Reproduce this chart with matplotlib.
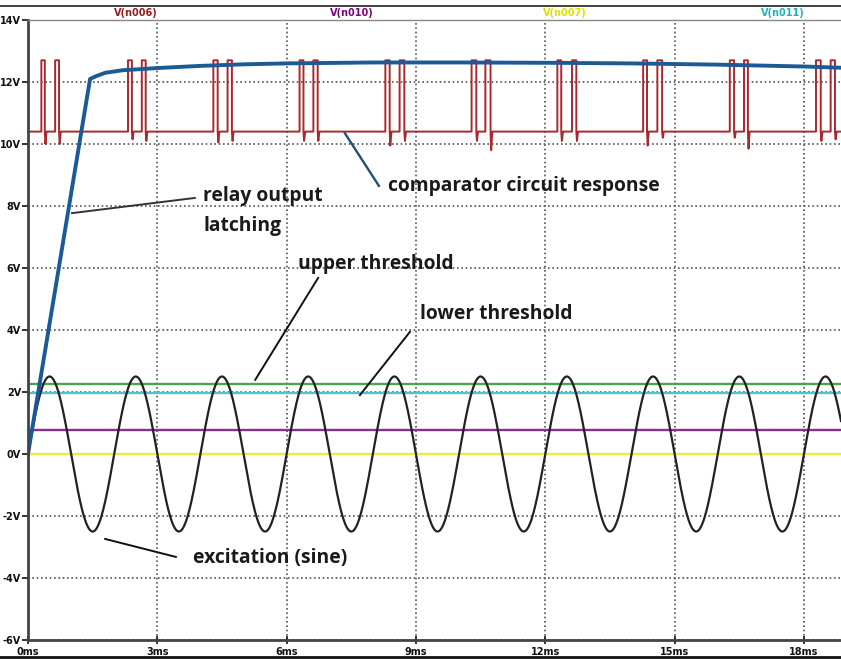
import numpy as np
import matplotlib.pyplot as plt
from matplotlib.lines import Line2D

# ---- data ----
x_ticks = [0, 3, 6, 9, 12, 15, 18]
x_labels = ["0ms", "3ms", "6ms", "9ms", "12ms", "15ms", "18ms"]
y_ticks = [-6, -4, -2, 0, 2, 4, 6, 8, 10, 12, 14]
y_labels = ["-6V", "-4V", "-2V", "0V", "2V", "4V", "6V", "8V", "10V", "12V", "14V"]

# excitation: 2.5 V sine, 2 ms period
sine_amp = 2.5
sine_period = 2.0

# relay output (blue)
relay_t = [0, 1.44, 1.6, 1.8, 2.2, 3.0, 4.0, 5.0, 6.0, 8.0, 10.0, 12.0, 14.0, 16.0, 17.0, 18.0, 18.86]
relay_v = [0, 12.1, 12.2, 12.3, 12.38, 12.45, 12.52, 12.57, 12.6, 12.63, 12.63, 12.62, 12.6, 12.56, 12.53, 12.5, 12.46]

# comparator response (dark red): base level, pulse level, pulse edges, dips after falls
comp_low = 10.4
comp_high = 12.7
pulse_rise = [0.31, 0.63, 2.32, 2.64, 4.30, 4.63, 6.30, 6.62, 8.29, 8.62,
              10.29, 10.61, 12.28, 12.62, 14.27, 14.60, 16.28, 16.61, 18.28, 18.62]
pulse_fall = [0.39, 0.72, 2.41, 2.73, 4.40, 4.73, 6.39, 6.72, 8.39, 8.73,
              10.40, 10.73, 12.37, 12.72, 14.36, 14.71, 16.38, 16.70, 18.39, 18.72]
pulse_dip = [10.0, 10.0, 10.15, 10.1, 10.05, 10.1, 10.1, 10.1, 9.95, 10.1,
             10.1, 9.8, 10.1, 10.1, 9.95, 10.2, 10.2, 9.85, 10.1, 10.15]

# flat threshold / reference traces
upper_thr = 2.27   # green
lower_thr = 1.97   # cyan
n010_level = 0.78  # purple
n007_level = 0.0   # yellow

t_end = 18.86

# ---- figure ----
fig = plt.figure(figsize=(8.41, 6.60), dpi=100)
ax = fig.add_axes([28/841, 20/660, 813/841, 620/660])
ax.set_xlim(0, t_end)
ax.set_ylim(-6, 14)

ax.set_xticks(x_ticks)
ax.set_xticklabels(x_labels)
ax.set_yticks(y_ticks)
ax.set_yticklabels(y_labels)
ax.tick_params(axis='both', labelsize=7, colors='#111111', width=1.2, length=4)
ax.tick_params(axis='x', direction='inout', pad=2, length=6)
ax.tick_params(axis='y', direction='out', pad=1)
for lab in ax.get_xticklabels() + ax.get_yticklabels():
    lab.set_fontweight('bold')

ax.grid(True, color='#555555', linestyle=(0, (1, 1.6)), linewidth=1.2)
ax.set_axisbelow(True)

for s in ['left', 'bottom']:
    ax.spines[s].set_color('#444444')
    ax.spines[s].set_linewidth(2)
ax.spines['top'].set_color('#888888')
ax.spines['top'].set_linewidth(1)
ax.spines['right'].set_visible(False)

# reference levels
ax.axhline(upper_thr, color='#4aa64a', lw=1.7)
ax.axhline(lower_thr, color='#4cc6c8', lw=1.7)
ax.axhline(n010_level, color='#84308c', lw=1.7)
ax.axhline(n007_level, color='#ecec3c', lw=1.7)

# excitation sine
t = np.linspace(0, t_end, 3000)
ax.plot(t, sine_amp * np.sin(2 * np.pi * t / sine_period), color='#222222', lw=1.6)

# comparator trace built from the pulse edges
ct, cv = [0.0], [comp_low]
for r, f, d in zip(pulse_rise, pulse_fall, pulse_dip):
    ct += [r, r, f, f, f + 0.015, f + 0.04]
    cv += [comp_low, comp_high, comp_high, comp_low, d, comp_low]
ct.append(t_end)
cv.append(comp_low)
ax.plot(ct, cv, color='#a8282c', lw=1.4, solid_joinstyle='round')

# relay output
ax.plot(relay_t, relay_v, color='#1c5a96', lw=2.8, solid_capstyle='round')

# annotations
txt = dict(fontsize=13.9, family=['Open Sans', 'DejaVu Sans'], fontweight='bold',
           color='#1a1a1a', va='center', ha='left')
ax.text(4.06, 8.32, "relay output", **txt)
ax.text(4.06, 7.35, "latching", **txt)
ax.text(8.35, 8.65, "comparator circuit response", **txt)
ax.text(6.26, 6.13, "upper threshold", **txt)
ax.text(9.09, 4.52, "lower threshold", **txt)
ax.text(3.83, -3.35, "excitation (sine)", **txt)

ax.plot([3.87, 1.02], [8.26, 7.77], color='#333333', lw=1.4)
ax.plot([7.35, 8.14], [10.35, 8.65], color='#1f4e79', lw=1.7)
ax.plot([6.73, 5.27], [5.68, 2.39], color='#111111', lw=1.4)
ax.plot([8.86, 7.70], [3.94, 1.90], color='#111111', lw=1.4)
ax.plot([1.79, 3.43], [-2.74, -3.32], color='#111111', lw=1.4)

# header strip with trace names
fig.add_artist(Line2D([0, 1], [1 - 6/660, 1 - 6/660], color='#222222', lw=1.2))
fig.add_artist(Line2D([0, 1], [3/660, 3/660], color='#111111', lw=2))
hdr = dict(fontsize=7, fontweight='bold', ha='center', va='center')
fig.text(136/841, 1 - 13/660, "V(n006)", color='#9b1c1c', **hdr)
fig.text(352/841, 1 - 13/660, "V(n010)", color='#800080', **hdr)
fig.text(565/841, 1 - 13/660, "V(n007)", color='#e0e000', **hdr)
fig.text(783/841, 1 - 13/660, "V(n011)", color='#20b0c0', **hdr)

fig.savefig("out.png", dpi=100)
